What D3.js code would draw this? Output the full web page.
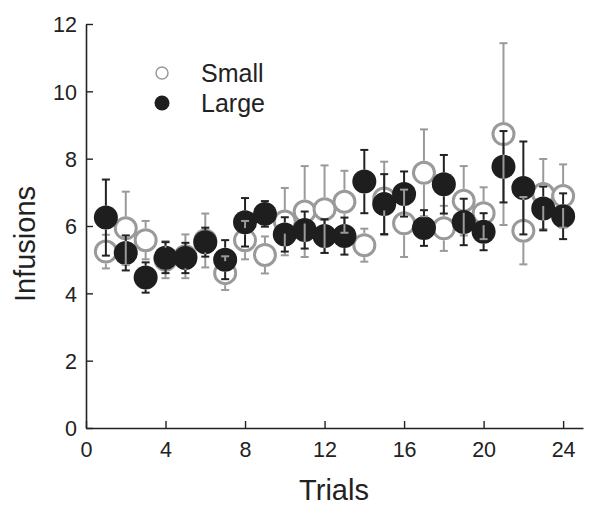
<!DOCTYPE html>
<html><head><meta charset="utf-8">
<script src="https://cdn.jsdelivr.net/npm/d3@7"></script>
<style>body{margin:0;background:#fff}svg{display:block}</style>
</head><body>
<svg id="c" width="601" height="515"></svg>
<script>
const trials = d3.range(1, 25);
const smallMean = [5.24,5.93,5.58,5.00,5.10,5.57,4.60,5.58,5.14,6.13,6.43,6.50,6.72,5.43,6.82,6.08,7.58,5.93,6.75,6.38,8.73,5.86,6.95,6.89];
const smallSem  = [0.50,1.09,0.57,0.55,0.65,0.80,0.50,0.57,0.55,1.00,1.35,1.30,0.92,0.49,1.09,1.00,1.29,0.67,1.03,0.77,2.70,1.00,1.04,0.94];
const largeMean = [6.25,5.20,4.47,5.06,5.05,5.52,5.00,6.11,6.36,5.75,5.88,5.70,5.70,7.32,6.65,6.95,5.94,7.24,6.12,5.83,7.76,7.13,6.52,6.29];
const largeSem  = [1.13,0.52,0.45,0.46,0.45,0.43,0.58,0.72,0.38,0.51,0.55,0.50,0.55,0.94,0.89,0.67,0.53,0.87,0.69,0.55,1.06,1.38,0.65,0.68];
const xTicks = [0,4,8,12,16,20,24];
const yTicks = [0,2,4,6,8,10,12];
const seriesNames = ["Small","Large"];

const svg = d3.select("#c");
const font = "Arial, 'Liberation Sans', sans-serif";
const x = d3.scaleLinear().domain([0,25]).range([86,583]);
const y = d3.scaleLinear().domain([0,12]).range([428,24]);
const R = 12;

const gray = "#9a9a9a", dark = "#1e1e1e";

// axes
const xAxis = svg.append("g").attr("transform","translate(0,428)")
  .call(d3.axisBottom(x).tickValues(xTicks).tickSizeInner(-7).tickSizeOuter(0).tickPadding(14));
const yAxis = svg.append("g").attr("transform","translate(86,0)")
  .call(d3.axisLeft(y).tickValues(yTicks).tickSizeInner(-7).tickSizeOuter(0).tickPadding(9));
[xAxis,yAxis].forEach(g=>{
  g.select(".domain").attr("stroke","#222").attr("stroke-width",1.6);
  g.selectAll(".tick line").attr("stroke","#222").attr("stroke-width",1.4);
  g.selectAll("text").attr("font-family",font).attr("font-size",21.5).attr("fill","#222");
});
xAxis.selectAll("text").attr("dy","0.71em");
yAxis.selectAll("text").attr("dy","0.36em");

// axis titles
svg.append("text").attr("x",334).attr("y",500).attr("text-anchor","middle")
  .attr("font-family",font).attr("font-size",29).attr("fill","#222").text("Trials");
svg.append("text").attr("transform","translate(35,244) rotate(-90)").attr("text-anchor","middle")
  .attr("font-family",font).attr("font-size",29).attr("fill","#222").text("Infusions");

const small = trials.map((t,i)=>({t, m:smallMean[i], s:smallSem[i]}));
const large = trials.map((t,i)=>({t, m:largeMean[i], s:largeSem[i]}));

// circles
svg.append("g").selectAll("circle").data(small).join("circle")
  .attr("cx",d=>x(d.t)).attr("cy",d=>y(d.m)).attr("r",R-1.5)
  .attr("fill","#fff").attr("stroke",gray).attr("stroke-width",3);
svg.append("g").selectAll("circle").data(large).join("circle")
  .attr("cx",d=>x(d.t)).attr("cy",d=>y(d.m)).attr("r",R)
  .attr("fill",dark);

// error bars (drawn from symbol edge outward)
function bars(data, color){
  const g = svg.append("g").attr("stroke",color).attr("stroke-width",2).attr("fill","none");
  data.forEach(d=>{
    const cx = x(d.t), cy = y(d.m), top = y(d.m+d.s), bot = y(d.m-d.s);
    if (cy - top > R) g.append("line").attr("x1",cx).attr("x2",cx).attr("y1",cy-R).attr("y2",top);
    if (bot - cy > R) g.append("line").attr("x1",cx).attr("x2",cx).attr("y1",cy+R).attr("y2",bot);
    g.append("line").attr("x1",cx-4).attr("x2",cx+4).attr("y1",top).attr("y2",top);
    g.append("line").attr("x1",cx-4).attr("x2",cx+4).attr("y1",bot).attr("y2",bot);
  });
}
bars(small, gray);
bars(large, "#222");

// legend
const leg = svg.append("g");
leg.append("circle").attr("cx",162).attr("cy",73).attr("r",6).attr("fill","#fff").attr("stroke",gray).attr("stroke-width",1.5);
leg.append("circle").attr("cx",162).attr("cy",103).attr("r",7.5).attr("fill",dark);
leg.append("text").attr("x",201).attr("y",82).attr("font-family",font).attr("font-size",25).attr("fill","#222").text(seriesNames[0]);
leg.append("text").attr("x",201).attr("y",112).attr("font-family",font).attr("font-size",25).attr("fill","#222").text(seriesNames[1]);
</script>
</body></html>
